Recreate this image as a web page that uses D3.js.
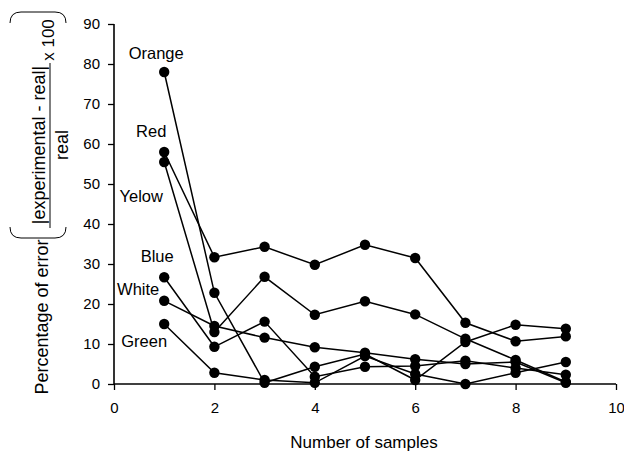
<!DOCTYPE html>
<html>
<head>
<meta charset="utf-8">
<script src="https://cdn.jsdelivr.net/npm/d3@7"></script>
<style>
  html, body { margin: 0; padding: 0; background: #fff; }
  svg { display: block; font-family: "Liberation Sans", Arial, sans-serif; }
</style>
</head>
<body>
<svg id="chart" width="624" height="452"></svg>
<script>
// ---- data ----
const samples = [1, 2, 3, 4, 5, 6, 7, 8, 9];
const seriesNames = ["Orange", "Red", "Yelow", "Blue", "White", "Green"];
const orange = [78.0, 22.8, 0.3, 4.3, 7.5, 1.0, 10.5, 14.8, 13.8];
const red    = [58.0, 31.7, 34.3, 29.8, 34.8, 31.5, 15.3, 10.7, 11.9];
const yellow = [55.5, 13.0, 26.8, 17.3, 20.7, 17.4, 11.3, 6.0, 0.5];
const blue   = [26.7, 9.3, 15.6, 1.8, 4.3, 4.5, 5.8, 4.0, 2.3];
const white  = [20.8, 14.5, 11.6, 9.2, 7.8, 6.2, 5.0, 5.5, 0.3];
const green  = [15.0, 2.8, 1.0, 0.3, 7.0, 2.5, 0.0, 2.8, 5.5];
const xTicks = [0, 2, 4, 6, 8, 10];
const yTicks = [0, 10, 20, 30, 40, 50, 60, 70, 80, 90];
const xTitle = "Number of samples";
const yTitle = "Percentage of error";

const allSeries = [orange, red, yellow, blue, white, green];

// ---- layout ----
const svg = d3.select("#chart");
const x = d3.scaleLinear().domain([0, 10]).range([114, 616]);
const y = d3.scaleLinear().domain([0, 90]).range([384, 24]);

// axes
const xAxis = svg.append("g").attr("transform", `translate(0,${y(0)})`)
  .call(d3.axisBottom(x).tickValues(xTicks).tickSize(6).tickPadding(12).tickFormat(d3.format("d")));
const yAxis = svg.append("g").attr("transform", `translate(${x(0)},0)`)
  .call(d3.axisLeft(y).tickValues(yTicks).tickSize(6).tickPadding(8).tickFormat(d3.format("d")));
[xAxis, yAxis].forEach(a => {
  a.select(".domain").attr("stroke", "#000").attr("stroke-width", 1.6);
  a.selectAll(".tick line").attr("stroke", "#000").attr("stroke-width", 1.3);
  a.selectAll(".tick text").attr("fill", "#000").style("font-size", "15px")
   .style("font-family", "'Liberation Sans', Arial, sans-serif");
});
yAxis.select(".domain").attr("d", `M0,${y(90)}V${y(0)}`);
xAxis.select(".domain").attr("d", `M${x(0)},0H${x(10)}`);

// lines and points
const line = d3.line().x((d, i) => x(samples[i])).y(d => y(d));
const g = svg.append("g");
allSeries.forEach(s => {
  g.append("path").attr("d", line(s)).attr("fill", "none")
    .attr("stroke", "#000").attr("stroke-width", 1.5);
});
allSeries.forEach(s => {
  g.selectAll(null).data(s).enter().append("circle")
    .attr("cx", (d, i) => x(samples[i])).attr("cy", d => y(d)).attr("r", 5.2)
    .attr("fill", "#000");
});

// series labels (placed near the first point)
const labelOffsets = [[-8, -13], [-13, -15], [-23, 40], [-7, -15], [-26, -6], [-20, 23]];
allSeries.forEach((s, i) => {
  svg.append("text")
    .attr("x", x(samples[0]) + labelOffsets[i][0])
    .attr("y", y(s[0]) + labelOffsets[i][1])
    .attr("text-anchor", "middle")
    .style("font-size", "16.5px")
    .text(seriesNames[i]);
});

// axis titles
svg.append("text").attr("x", 364).attr("y", 448).attr("text-anchor", "middle")
  .style("font-size", "17px").text(xTitle);

svg.append("text").attr("transform", "translate(48,317) rotate(-90)")
  .attr("text-anchor", "middle").style("font-size", "18px").text(yTitle);

// formula part of y title
svg.append("text").attr("transform", "translate(45,145) rotate(-90)")
  .attr("text-anchor", "middle").style("font-size", "18px").text("|experimental - real|");
svg.append("line").attr("x1", 50).attr("x2", 50).attr("y1", 63).attr("y2", 228)
  .attr("stroke", "#000").attr("stroke-width", 1);
svg.append("text").attr("transform", "translate(68,145) rotate(-90)")
  .attr("text-anchor", "middle").style("font-size", "18px").text("real");
svg.append("text").attr("transform", "translate(54,40) rotate(-90)")
  .attr("text-anchor", "middle").style("font-size", "17px").text("x 100");

// big parentheses (rotated)
svg.append("path").attr("d", "M10,23 Q10,12 21,12 L55,12 Q66,12 66,23")
  .attr("fill", "none").attr("stroke", "#000").attr("stroke-width", 1);
svg.append("path").attr("d", "M10,227 Q10,238 21,238 L55,238 Q66,238 66,227")
  .attr("fill", "none").attr("stroke", "#000").attr("stroke-width", 1);
</script>
</body>
</html>
